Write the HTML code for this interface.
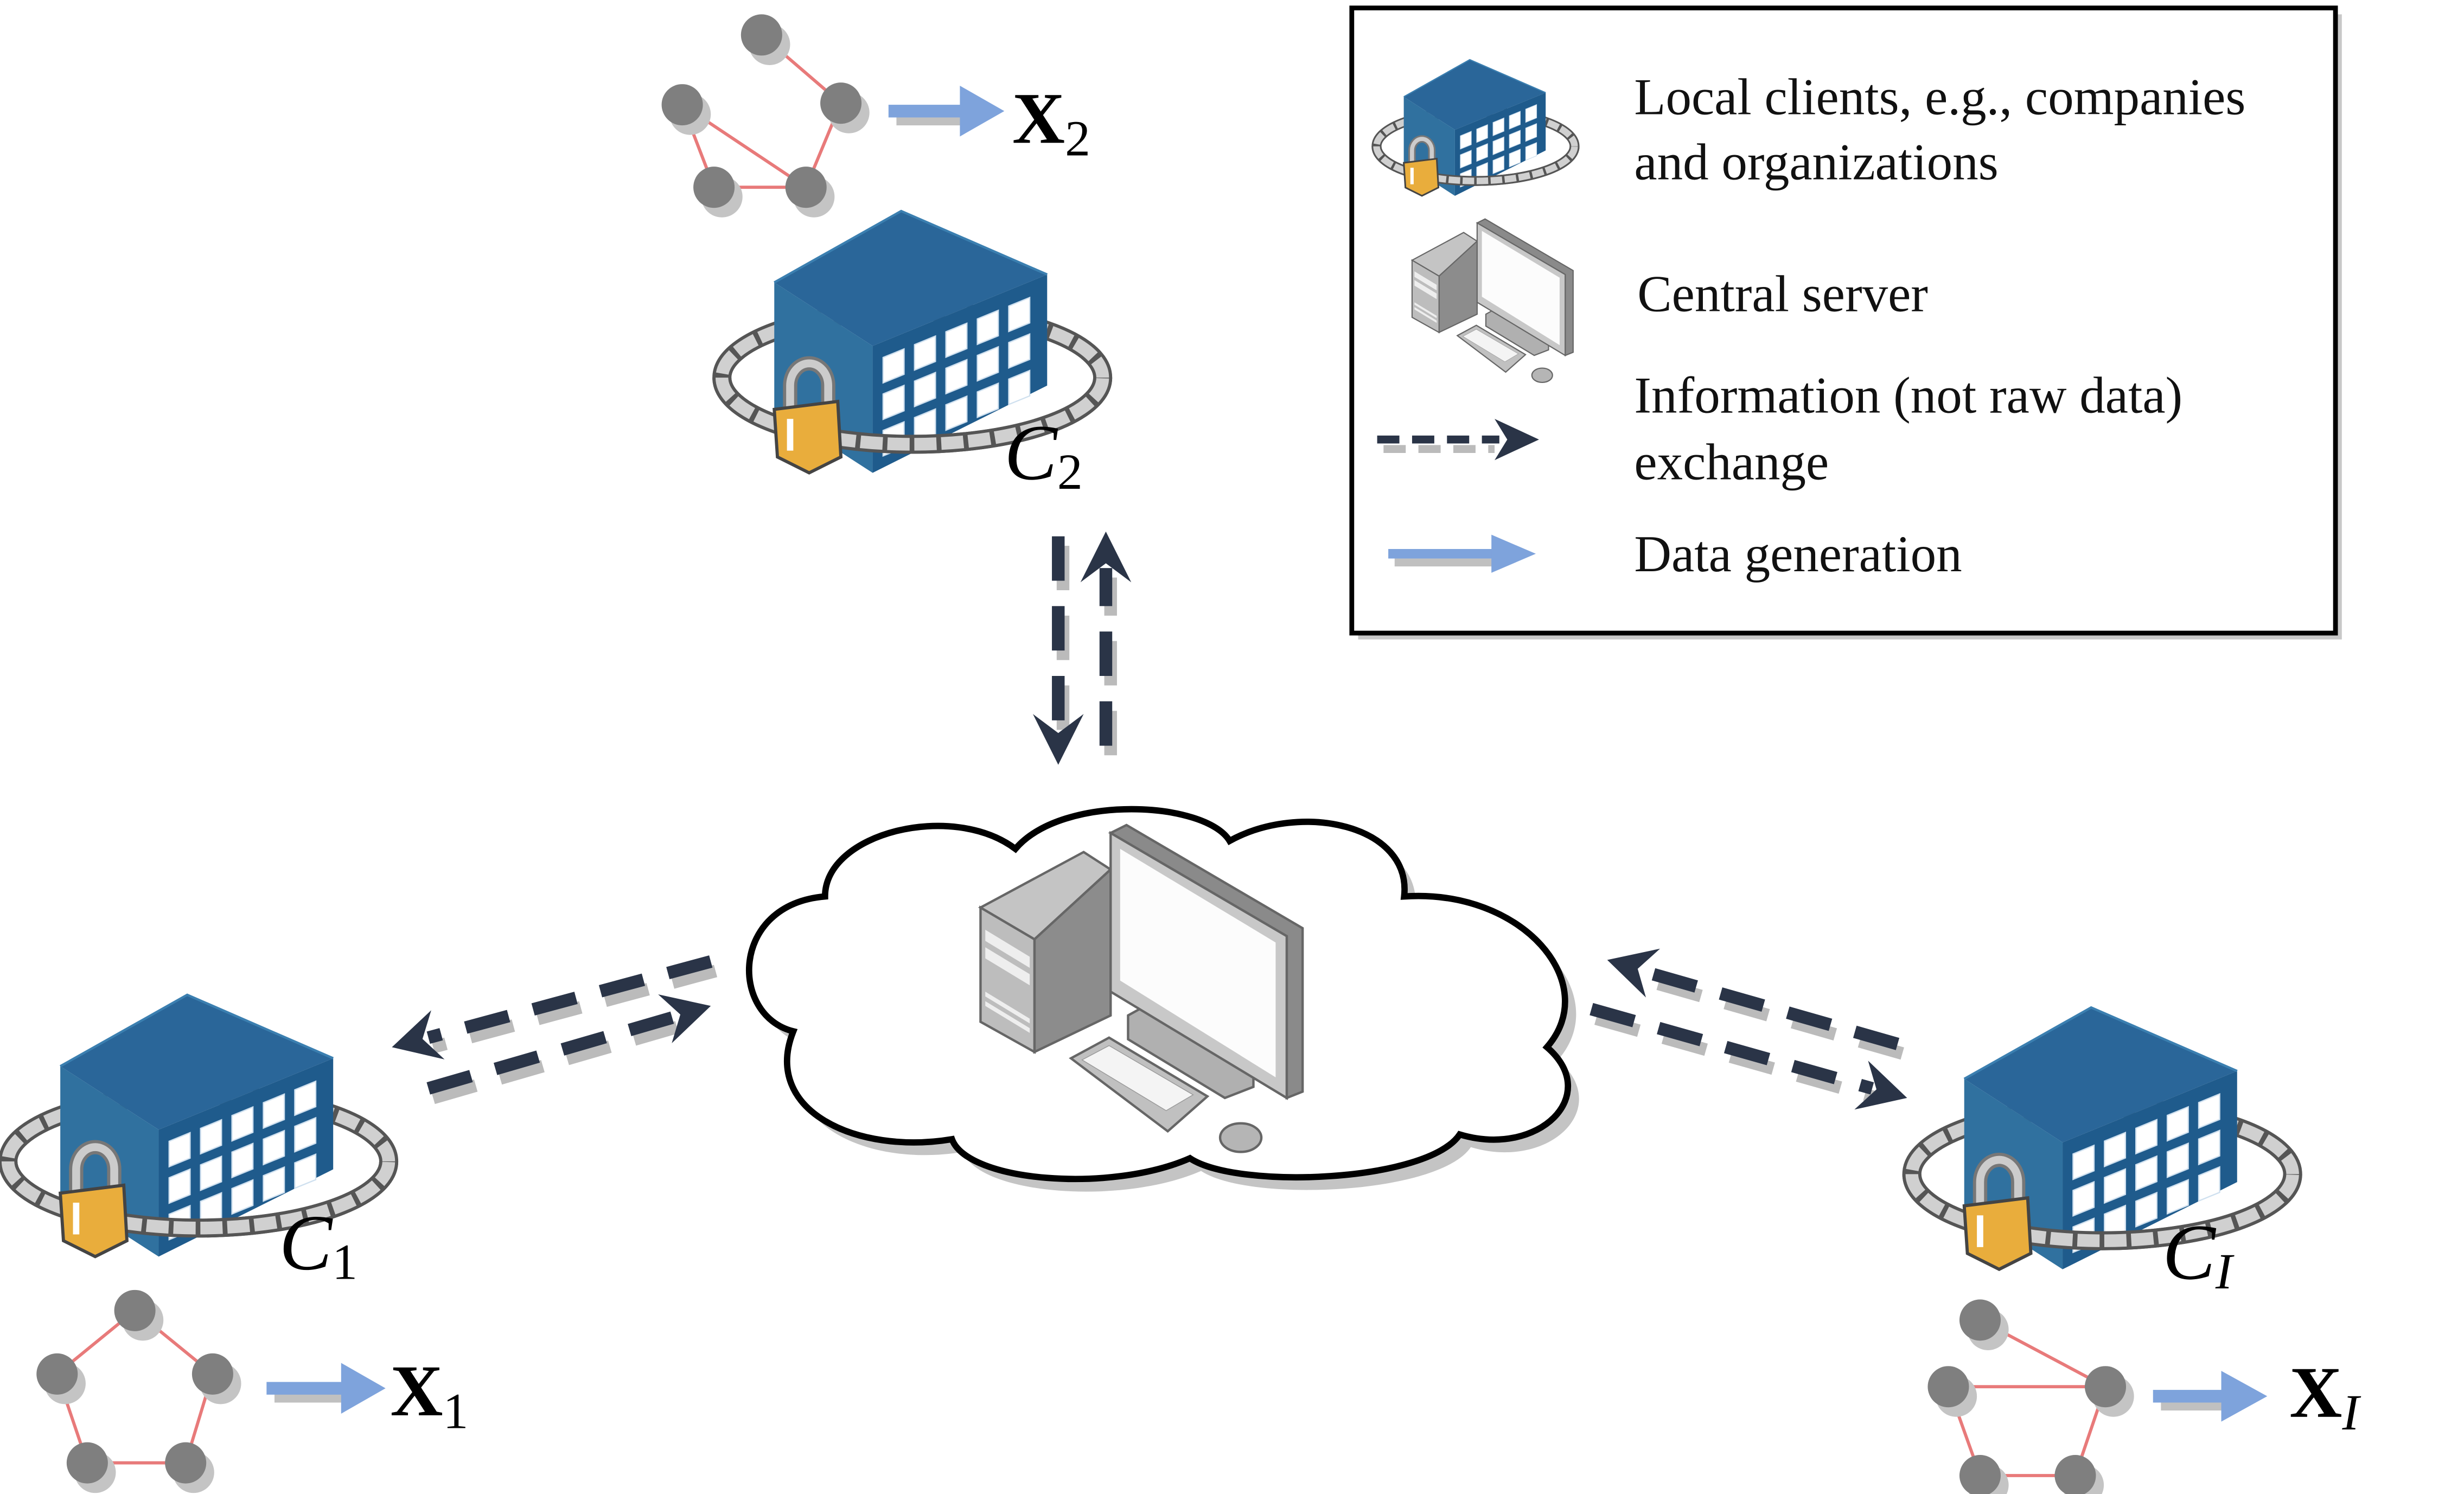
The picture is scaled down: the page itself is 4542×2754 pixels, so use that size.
<!DOCTYPE html>
<html><head><meta charset="utf-8"><style>html,body{margin:0;padding:0;background:#fff}svg{display:block}</style></head>
<body>
<svg width="4542" height="2754" viewBox="0 0 1553 941.6" xmlns="http://www.w3.org/2000/svg">
<defs>
<path id="win" d="M0 0 l13.2 -5.4 v16 l-13.2 5.4z" fill="#fff" stroke="#cfe0ef" stroke-width="0.8"/>
<g id="bld">
  <ellipse cx="125" cy="110" rx="120" ry="42" fill="none" stroke="#555" stroke-width="12"/>
  <ellipse cx="125" cy="110" rx="120" ry="42" fill="none" stroke="#d0d0d0" stroke-width="8" stroke-dasharray="14 3"/>
  <polygon points="38,50 118,5 210,45 100,90" fill="#2a6699"/>
  <polygon points="38,50 100,90 100,170 38,130" fill="#30719f"/>
  <polygon points="100,90 210,45 210,115 100,170" fill="#1f5b8c"/>
  <polyline points="38,50 118,5 210,45" fill="none" stroke="#3b7fb0" stroke-width="1.5"/>
  <use href="#win" x="106.6" y="97.3"/><use href="#win" x="126.4" y="89.2"/><use href="#win" x="146.2" y="81.1"/><use href="#win" x="166" y="73"/><use href="#win" x="185.8" y="64.9"/>
  <use href="#win" x="106.6" y="120.3"/><use href="#win" x="126.4" y="112.2"/><use href="#win" x="146.2" y="104.1"/><use href="#win" x="166" y="96"/><use href="#win" x="185.8" y="87.9"/>
  <use href="#win" x="106.6" y="143.3"/><use href="#win" x="126.4" y="135.2"/><use href="#win" x="146.2" y="127.1"/><use href="#win" x="166" y="119"/><use href="#win" x="185.8" y="110.9"/>
  <path d="M5 110 A120 42 0 0 0 245 110" fill="none" stroke="#555" stroke-width="12"/>
  <path d="M5 110 A120 42 0 0 0 245 110" fill="none" stroke="#d0d0d0" stroke-width="8" stroke-dasharray="14 3"/>
  <path d="M48 135 V115 a12 14 0 0 1 24 0 V135" fill="none" stroke="#777" stroke-width="9"/>
  <path d="M48 135 V115 a12 14 0 0 1 24 0 V135" fill="none" stroke="#ccc" stroke-width="5"/>
  <polygon points="38,130 78,125 80,160 60,170 40,160" fill="#e9ad3c" stroke="#444" stroke-width="2"/>
  <rect x="46" y="136" width="4" height="20" fill="#fff"/>
</g>
<g id="comp">
  <polygon points="618,572 683,537 700,548 652,592" fill="#c4c4c4" stroke="#666" stroke-width="1.5"/>
  <polygon points="652,592 700,548 700,640 652,663" fill="#8c8c8c" stroke="#666" stroke-width="1.5"/>
  <polygon points="618,572 652,592 652,663 618,644" fill="#bdbdbd" stroke="#666" stroke-width="1.5"/>
  <polygon points="621,586 649,603 649,610 621,593" fill="#eee"/><polygon points="621,597 649,614 649,621 621,604" fill="#eee"/>
  <polygon points="621,625 649,642 649,645 621,628" fill="#eee"/><polygon points="621,631 649,648 649,651 621,634" fill="#eee"/>
  <polygon points="711,640 720,635 790,675 790,685 772,692 711,655" fill="#b0b0b0" stroke="#666" stroke-width="1.5"/>
  <polygon points="700,525 710,520 821,585 821,688 811,692 811,590" fill="#8a8a8a" stroke="#666" stroke-width="1.5"/>
  <polygon points="700,525 811,590 811,692 700,625" fill="#c8c8c8" stroke="#666" stroke-width="1.5"/>
  <polygon points="706,535 804,594 804,679 706,618" fill="#fcfcfc"/>
  <polygon points="675,667 699,654 761,691 736,713" fill="#c0c0c0" stroke="#666" stroke-width="1.5"/>
  <polygon points="682,668 699,659 752,690 735,700" fill="#f4f4f4" stroke="#999" stroke-width="0.5"/>
  <ellipse cx="782" cy="717" rx="13" ry="9" fill="#b5b5b5" stroke="#666" stroke-width="1.5"/>
</g>
</defs>

<!-- legend -->
<rect x="856" y="9" width="620" height="394" fill="#c8c8c8"/>
<rect x="852" y="5" width="620" height="394" fill="#fff" stroke="#000" stroke-width="3"/>
<g transform="translate(865,35) scale(0.52)"><use href="#bld"/></g>
<g transform="translate(890,138) scale(0.5) translate(-618,-520)"><use href="#comp"/></g>
<g font-family="Liberation Serif, serif" font-size="32.5" fill="#111">
<text x="1030" y="72">Local clients, e.g., companies</text>
<text x="1030" y="113">and organizations</text>
<text x="1032" y="196">Central server</text>
<text x="1030" y="260">Information (not raw data)</text>
<text x="1030" y="302">exchange</text>
<text x="1030" y="360">Data generation</text>
</g>
<line x1="872" y1="283" x2="942" y2="283" stroke="#bbb" stroke-width="5" stroke-dasharray="14 8"/>
<line x1="868" y1="277" x2="945" y2="277" stroke="#2a3447" stroke-width="5" stroke-dasharray="14 8"/>
<polygon points="970,277 942,264 950,277 942,290" fill="#2a3447"/>
<rect x="879" y="352" width="65" height="5" fill="#c0c0c0"/>
<rect x="875" y="346" width="70" height="6" fill="#7ea3dc"/>
<polygon points="940,337 968,349 940,361" fill="#7ea3dc"/>

<!-- cloud -->
<g transform="translate(7,8)"><path d="M500,650 C460,640 460,570 520,565 C520,525 600,505 640,535 C670,500 760,505 775,530 C820,505 890,520 885,565 C960,560 1010,620 975,660 C1010,690 970,730 920,715 C900,745 780,750 750,730 C700,752 610,745 600,718 C540,728 480,700 500,650 Z" fill="#c4c4c4"/></g>
<path d="M500,650 C460,640 460,570 520,565 C520,525 600,505 640,535 C670,500 760,505 775,530 C820,505 890,520 885,565 C960,560 1010,620 975,660 C1010,690 970,730 920,715 C900,745 780,750 750,730 C700,752 610,745 600,718 C540,728 480,700 500,650 Z" fill="#fff" stroke="#000" stroke-width="4"/>
<use href="#comp"/>

<!-- buildings -->
<g transform="translate(450,128)"><use href="#bld"/></g>
<g transform="translate(0,622)"><use href="#bld"/></g>
<g transform="translate(1200,630)"><use href="#bld"/></g>

<!-- dashed arrows -->
<g stroke-width="8" stroke-dasharray="28 16" fill="none">
<g stroke="#bbb" transform="translate(3,6)">
<line x1="448" y1="606" x2="270" y2="654"/><line x1="270" y1="686" x2="425" y2="641"/>
<line x1="1196" y1="658" x2="1035" y2="612"/><line x1="1003" y1="636" x2="1180" y2="686"/>
<line x1="667" y1="338" x2="667" y2="460"/><line x1="697" y1="470" x2="697" y2="358"/>
</g>
<g stroke="#2a3447">
<line x1="448" y1="606" x2="270" y2="654"/><line x1="270" y1="686" x2="425" y2="641"/>
<line x1="1196" y1="658" x2="1035" y2="612"/><line x1="1003" y1="636" x2="1180" y2="686"/>
<line x1="667" y1="338" x2="667" y2="460"/><line x1="697" y1="470" x2="697" y2="358"/>
</g>
</g>
<g fill="#2a3447">
<polygon points="247,660 280.2,667.7 266.3,654.8 271.8,636.7"/>
<polygon points="448,634 423.4,657.5 428.8,639.4 414.8,626.7"/>
<polygon points="1013,605 1046.3,597.9 1032.2,610.6 1037.4,628.7"/>
<polygon points="1202,692 1168.8,699.3 1182.7,686.6 1177.4,668.5"/>
<polygon points="667,482 651,450 667,462 683,450"/>
<polygon points="697,335 681,367 697,355 713,367"/>
</g>

<!-- graphs -->
<g stroke="#e87a7a" stroke-width="2">
<line x1="480" y1="22" x2="530" y2="65"/><line x1="430" y1="66" x2="508" y2="118"/><line x1="430" y1="66" x2="450" y2="118"/><line x1="450" y1="118" x2="508" y2="118"/><line x1="530" y1="65" x2="508" y2="118"/>
<line x1="85" y1="826" x2="36" y2="866"/><line x1="85" y1="826" x2="134" y2="866"/><line x1="36" y1="866" x2="55" y2="922"/><line x1="134" y1="866" x2="117" y2="922"/><line x1="55" y1="922" x2="117" y2="922"/>
<line x1="1248" y1="832" x2="1327" y2="874"/><line x1="1228" y1="874" x2="1327" y2="874"/><line x1="1228" y1="874" x2="1248" y2="930"/><line x1="1327" y1="874" x2="1308" y2="930"/><line x1="1248" y1="930" x2="1308" y2="930"/>
</g>
<g fill="#c4c4c4" transform="translate(5,6)">
<circle cx="480" cy="22" r="13"/><circle cx="430" cy="66" r="13"/><circle cx="530" cy="65" r="13"/><circle cx="450" cy="118" r="13"/><circle cx="508" cy="118" r="13"/>
<circle cx="85" cy="826" r="13"/><circle cx="36" cy="866" r="13"/><circle cx="134" cy="866" r="13"/><circle cx="55" cy="922" r="13"/><circle cx="117" cy="922" r="13"/>
<circle cx="1248" cy="832" r="13"/><circle cx="1228" cy="874" r="13"/><circle cx="1327" cy="874" r="13"/><circle cx="1248" cy="930" r="13"/><circle cx="1308" cy="930" r="13"/>
</g>
<g fill="#7f7f7f">
<circle cx="480" cy="22" r="13"/><circle cx="430" cy="66" r="13"/><circle cx="530" cy="65" r="13"/><circle cx="450" cy="118" r="13"/><circle cx="508" cy="118" r="13"/>
<circle cx="85" cy="826" r="13"/><circle cx="36" cy="866" r="13"/><circle cx="134" cy="866" r="13"/><circle cx="55" cy="922" r="13"/><circle cx="117" cy="922" r="13"/>
<circle cx="1248" cy="832" r="13"/><circle cx="1228" cy="874" r="13"/><circle cx="1327" cy="874" r="13"/><circle cx="1248" cy="930" r="13"/><circle cx="1308" cy="930" r="13"/>
</g>

<!-- blue arrows -->
<g fill="#c0c0c0">
<rect x="565" y="72" width="45" height="7"/><rect x="173" y="877" width="45" height="7"/><rect x="1362" y="882" width="42" height="7"/>
</g>
<g fill="#7ea3dc">
<rect x="560" y="66" width="50" height="8"/><polygon points="605,54 633,70 605,86"/>
<rect x="168" y="871" width="52" height="8"/><polygon points="215,859 243,875 215,891"/>
<rect x="1357" y="876" width="48" height="8"/><polygon points="1400,864 1429,880 1400,896"/>
</g>

<!-- labels -->
<g font-family="Liberation Serif, serif" fill="#000">
<text x="638" y="90" font-size="46" font-weight="bold">X<tspan font-size="32" font-weight="normal" dy="8">2</tspan></text>
<text x="246" y="892" font-size="46" font-weight="bold">X<tspan font-size="32" font-weight="normal" dy="8">1</tspan></text>
<text x="1443" y="893" font-size="46" font-weight="bold">X<tspan font-size="32" font-weight="normal" font-style="italic" dy="8">I</tspan></text>
<text x="633" y="302" font-size="50" font-style="italic">C<tspan font-size="32" font-style="normal" dy="6">2</tspan></text>
<text x="176" y="800" font-size="50" font-style="italic">C<tspan font-size="32" font-style="normal" dy="6">1</tspan></text>
<text x="1363" y="806" font-size="50" font-style="italic">C<tspan font-size="32" dy="6">I</tspan></text>
</g>
</svg>
</body></html>
